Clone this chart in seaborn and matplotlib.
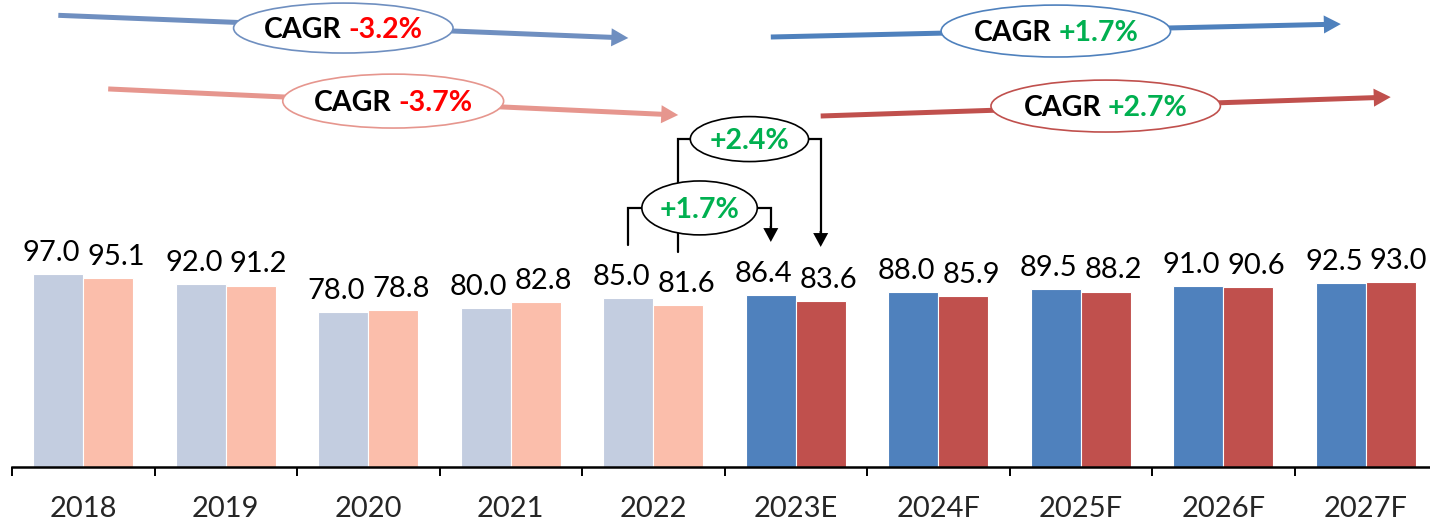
import matplotlib
matplotlib.use("Agg")
import matplotlib.pyplot as plt
import seaborn as sns
import pandas as pd
from matplotlib.patches import Ellipse, FancyArrowPatch, ArrowStyle
from matplotlib.offsetbox import TextArea, HPacker, AnnotationBbox

# ---- data -------------------------------------------------------------
years = ["2018", "2019", "2020", "2021", "2022",
         "2023E", "2024F", "2025F", "2026F", "2027F"]
series_a = [97.0, 92.0, 78.0, 80.0, 85.0, 86.4, 88.0, 89.5, 91.0, 92.5]
series_b = [95.1, 91.2, 78.8, 82.8, 81.6, 83.6, 85.9, 88.2, 90.6, 93.0]
series_names = ["A", "B"]
n_actual = 5  # 2018-2022 are actuals, the rest estimates / forecasts

cagr_actual = ["-3.2%", "-3.7%"]
cagr_forecast = ["+1.7%", "+2.7%"]
step_labels = ["+1.7%", "+2.4%"]

# ---- style ------------------------------------------------------------
actual_colors = ["#C3CDE0", "#FBBEAB"]
forecast_colors = ["#4F81BD", "#C0504D"]
actual_arrow_colors = ["#6F8FC0", "#E6968E"]
GREEN = "#00B050"
RED = "#FF0000"

sns.set_style("white")
plt.rcParams["font.family"] = ["Lato", "DejaVu Sans"]

df = pd.DataFrame({
    "year": years * 2,
    "value": series_a + series_b,
    "series": [series_names[0]] * len(years) + [series_names[1]] * len(years),
})

fig = plt.figure(figsize=(14.3, 5.26), dpi=100)
ax = fig.add_axes([12 / 1430, 59 / 526, 1425 / 1430, 467 / 526])

sns.barplot(data=df, x="year", y="value", hue="series", order=years,
            hue_order=series_names, width=0.7, gap=0, errorbar=None,
            palette=forecast_colors, edgecolor="white", linewidth=0.8,
            legend=False, ax=ax)

# actual years get the pale shades
for k, cont in enumerate(ax.containers):
    for i, bar in enumerate(cont):
        bar.set_facecolor(actual_colors[k] if i < n_actual else forecast_colors[k])

ax.set_xlim(-0.5, len(years) - 0.5)
ax.set_ylim(0, 234.7)
ax.set_xlabel("")
ax.set_ylabel("")
ax.set_yticks([])
for s in ["left", "right", "top"]:
    ax.spines[s].set_visible(False)
ax.spines["bottom"].set_linewidth(1.8)
ax.spines["bottom"].set_color("black")

ax.set_xticks(range(len(years)))
ax.set_xticklabels(years, fontsize=21)
ax.set_xticks([i - 0.5 for i in range(len(years) + 1)], minor=True)
ax.tick_params(axis="x", which="major", length=0, pad=21)
ax.tick_params(axis="x", which="minor", bottom=True, length=6.5, width=1.4,
               direction="out", color="black")

# value labels above bars
label_dx = [-5.0, 5.8]
for k, cont in enumerate(ax.containers):
    for bar in cont:
        h = bar.get_height()
        ax.annotate(f"{h:.1f}", (bar.get_x() + bar.get_width() / 2, h),
                    xytext=(label_dx[k], 9.4), textcoords="offset points",
                    ha="center", va="baseline", fontsize=21, color="black")

half = 0.35 / 2
offsets = [-half, half]


def text_pair(x, y, first, second, second_color, size):
    parts = []
    if first:
        parts.append(TextArea(first, textprops=dict(color="black", fontsize=size,
                                                     fontweight="bold")))
    parts.append(TextArea(second, textprops=dict(color=second_color, fontsize=size,
                                                 fontweight="bold")))
    box = HPacker(children=parts, align="baseline", pad=0, sep=5)
    ab = AnnotationBbox(box, (x, y), frameon=False, box_alignment=(0.5, 0.5),
                        annotation_clip=False, zorder=6)
    ax.add_artist(ab)


def cagr_arrow(i0, i1, k, y0, y1, yc, w, h, color, value, value_color):
    x0 = i0 + offsets[k]
    x1 = i1 + offsets[k]
    arr = FancyArrowPatch((x0, y0), (x1, y1),
                          arrowstyle=ArrowStyle("simple", head_length=12.2,
                                                head_width=13.0, tail_width=3.6),
                          mutation_scale=1, shrinkA=0, shrinkB=0,
                          facecolor=color, edgecolor="none", lw=0,
                          clip_on=False, zorder=3)
    ax.add_patch(arr)
    xc = (x0 + x1) / 2
    ax.add_patch(Ellipse((xc, yc), w, h, facecolor="white", edgecolor=color,
                         lw=1.2, clip_on=False, zorder=4))
    text_pair(xc, yc - 1.2, "CAGR", value, value_color, 20.5)


# CAGR arrows for actuals and forecasts of both series
cagr_arrow(0, n_actual - 1, 0, 227.0, 215.6, 220.6, 1.54, 25.1,
           actual_arrow_colors[0], cagr_actual[0], RED)
cagr_arrow(0, n_actual - 1, 1, 190.0, 176.9, 183.9, 1.55, 27.1,
           actual_arrow_colors[1], cagr_actual[1], RED)
cagr_arrow(n_actual, len(years) - 1, 0, 216.1, 222.6, 219.1, 1.61, 26.1,
           forecast_colors[0], cagr_forecast[0], GREEN)
cagr_arrow(n_actual, len(years) - 1, 1, 176.4, 185.9, 181.4, 1.61, 26.1,
           forecast_colors[1], cagr_forecast[1], GREEN)


def step_bracket(i, k, ybot, yc, ytip, w, h, value):
    xl = i + offsets[k]
    xr = i + 1 + offsets[k]
    ax.plot([xl, xl, xr, xr], [ybot, yc, yc, ytip + 3], color="black", lw=1.6,
            solid_joinstyle="miter", clip_on=False, zorder=3)
    arr = FancyArrowPatch((xr, ytip + 8), (xr, ytip),
                          arrowstyle=ArrowStyle("simple", head_length=10.0,
                                                head_width=10.8, tail_width=1.6),
                          mutation_scale=1, shrinkA=0, shrinkB=0,
                          facecolor="black", edgecolor="none", lw=0,
                          clip_on=False, zorder=3)
    ax.add_patch(arr)
    xc = (xl + xr) / 2
    ax.add_patch(Ellipse((xc, yc), w, h, facecolor="white", edgecolor="black",
                         lw=1.2, clip_on=False, zorder=4))
    text_pair(xc, yc - 1.0, None, value, GREEN, 20.5)


# year-on-year step from 2022 to 2023E
step_bracket(n_actual - 1, 0, 111.6, 130.2, 113.1, 0.81, 27.1, step_labels[0])
step_bracket(n_actual - 1, 1, 108.0, 164.8, 110.6, 0.83, 22.6, step_labels[1])

fig.savefig("out.png", dpi=100)
